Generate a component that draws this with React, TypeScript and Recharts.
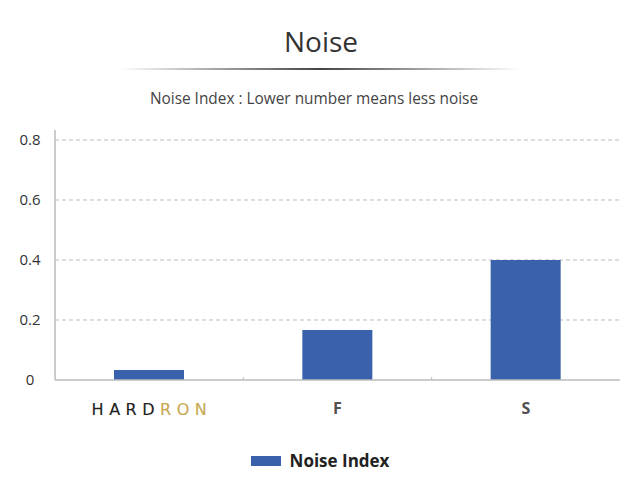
import React from "react";
import { BarChart, Bar, XAxis, YAxis, CartesianGrid, Legend } from "recharts";

const categories = ["HARDRON", "F", "S"];
const noiseIndex = [0.033, 0.167, 0.4];
const yTicks = [0, 0.2, 0.4, 0.6, 0.8];
const gridValues = [0.2, 0.4, 0.6, 0.8];
const seriesName = "Noise Index";
const titleText = "Noise";
const subtitleText = "Noise Index : Lower number means less noise";

const data = categories.map((c, i) => ({ name: c, value: noiseIndex[i] }));

const FONT = "'Open Sans', 'Noto Sans', sans-serif";
const BAR_COLOR = "#3a61ab";
const AXIS_COLOR = "#bbbbbb";

const XTick = (props: any) => {
  const { x, y, payload, index } = props;
  const off = payload && typeof payload.offset === "number" ? payload.offset : 0;
  const isLast = index === categories.length - 1;
  const label = payload.value as string;
  let content: React.ReactNode;
  if (label === "HARDRON") {
    const ls = 5.5;
    content = (
      <text
        x={x + ls / 2}
        y={y + 35}
        textAnchor="middle"
        fontFamily="'DejaVu Sans', sans-serif"
        fontSize={16}
        letterSpacing={ls}
        strokeWidth={0.15}
      >
        <tspan fill="#231f20" stroke="#231f20">HARD</tspan>
        <tspan fill="#c8a951" stroke="#c8a951">RON</tspan>
      </text>
    );
  } else {
    content = (
      <text
        x={x}
        y={y + 34}
        textAnchor="middle"
        fontFamily={FONT}
        fontSize={16}
        fontWeight={700}
        fill="#505050"
      >
        {label}
      </text>
    );
  }
  return (
    <g>
      {!isLast && off > 0 ? (
        <line x1={x + off} x2={x + off} y1={y - 3} y2={y} stroke={AXIS_COLOR} strokeWidth={1} />
      ) : null}
      {content}
    </g>
  );
};

const YTick = (props: any) => {
  const { x, y, payload } = props;
  return (
    <text
      x={x - 25}
      y={y}
      dy="0.36em"
      textAnchor="middle"
      fontFamily={FONT}
      fontSize={15}
      fill="#333333"
    >
      {String(payload.value)}
    </text>
  );
};

const LegendContent = () => (
  <div
    style={{
      display: "flex",
      justifyContent: "center",
      alignItems: "center",
      width: 640,
      fontFamily: FONT,
    }}
  >
    <span style={{ display: "inline-block", width: 30, height: 10, background: BAR_COLOR, marginRight: 9 }} />
    <span style={{ fontWeight: 700, fontSize: 17, color: "#222" }}>{seriesName}</span>
  </div>
);

export default function App() {
  return (
    <div style={{ position: "absolute", left: 0, top: 0, width: 640, height: 500, background: "#fff" }}>
      <svg width={640} height={120} style={{ position: "absolute", left: 0, top: 0 }}>
        <defs>
          <linearGradient id="titleLine" x1="0" x2="1" y1="0" y2="0">
            <stop offset="0%" stopColor="#444" stopOpacity={0} />
            <stop offset="50%" stopColor="#444" stopOpacity={1} />
            <stop offset="100%" stopColor="#444" stopOpacity={0} />
          </linearGradient>
        </defs>
        <text x={321} y={52} textAnchor="middle" fontFamily={FONT} fontSize={28} fill="#333">
          {titleText}
        </text>
        <rect x={120} y={68} width={400} height={2} fill="url(#titleLine)" />
        <text x={314} y={104} textAnchor="middle" fontFamily={FONT} fontSize={15.4} fill="#444">
          {subtitleText}
        </text>
      </svg>
      <div style={{ position: "absolute", left: 0, top: 0 }}>
        <BarChart width={640} height={500} data={data} margin={{ top: 130, right: 20, bottom: 70, left: 0 }}>
          <CartesianGrid
            vertical={false}
            stroke={AXIS_COLOR}
            strokeDasharray="4 3"
            horizontalValues={gridValues}
          />
          <XAxis
            dataKey="name"
            axisLine={{ stroke: AXIS_COLOR, strokeWidth: 1.5 }}
            tickLine={false}
            tickSize={0}
            tickMargin={0}
            height={50}
            interval={0}
            tick={<XTick />}
          />
          <YAxis
            width={55}
            domain={[0, 0.8333]}
            ticks={yTicks}
            axisLine={{ stroke: AXIS_COLOR, strokeWidth: 1.5 }}
            tickLine={false}
            tickSize={0}
            tickMargin={0}
            tick={<YTick />}
            allowDataOverflow
          />
          <Legend
            layout="horizontal"
            verticalAlign="middle"
            align="center"
            content={<LegendContent />}
            wrapperStyle={{ position: "absolute", top: 449, left: 0, width: 640 }}
          />
          <Bar dataKey="value" name={seriesName} fill={BAR_COLOR} barSize={70} isAnimationActive={false} />
        </BarChart>
      </div>
    </div>
  );
}
